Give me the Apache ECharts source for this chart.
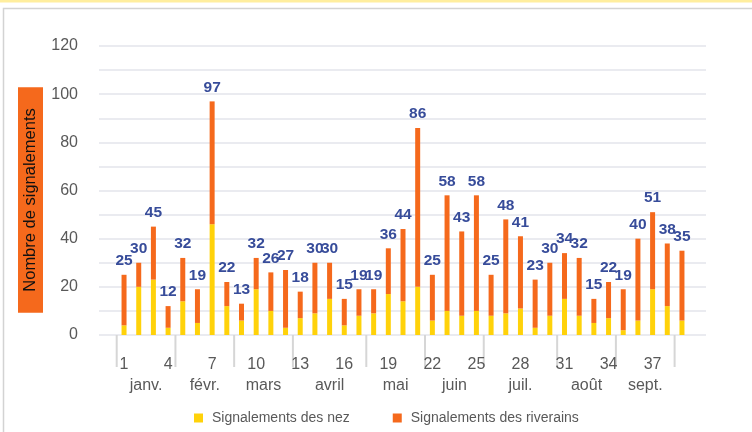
<!DOCTYPE html>
<html><head><meta charset="utf-8">
<script src="https://cdn.jsdelivr.net/npm/echarts@6/dist/echarts.min.js"></script>
<style>html,body{margin:0;padding:0;background:#fff}#c{width:752px;height:432px}</style>
</head><body><div id="c"></div>
<script>
var weeks = ['1','2','3','4','5','6','7','8','9','10','11','12','13','14','15','16','17','18','19','20','21','22','23','24','25','26','27','28','29','30','31','32','33','34','35','36','37','38','39'];
var nez = [4,20,23,3,14,5,46,12,6,19,10,3,7,9,15,4,8,9,17,14,20,6,10,8,10,8,9,11,3,8,15,8,5,7,2,6,19,12,6];
var riverains = [21,10,22,9,18,14,51,10,7,13,16,24,11,21,15,11,11,10,19,30,66,19,48,35,48,17,39,30,20,22,19,24,10,15,17,34,32,26,29];
var months = ['janv.','févr.','mars','avril','mai','juin','juil.','août','sept.'];
var monthFirstWeek = [1,5,9,13,18,22,26,31,35];
var monthLastWeek = [4,8,12,17,21,25,30,34,38];
var yTicks = [0,20,40,60,80,100,120];
var seriesNames = ['Signalements des nez','Signalements des riverains'];

var FONT = 'Liberation Sans, Arial, sans-serif';
var YELLOW = '#FFD20A', ORANGE = '#F5691C';
var chart = echarts.init(document.getElementById('c'));
chart.setOption({
  animation: false,
  textStyle: {fontFamily: FONT},
  grid: [
    {left: 99, right: 46, top: 46, bottom: 97},
    {left: 116.7, right: 62.7, top: 46, bottom: 97}
  ],
  legend: {
    left: 189, top: 406, itemWidth: 9, itemHeight: 9, itemGap: 43, icon: 'rect',
    textStyle: {fontSize: 14, color: '#595959', fontFamily: FONT, padding: [0,0,0,4]},
    data: seriesNames
  },
  xAxis: [
    {gridIndex: 0, type: 'value', show: false, min: 0, max: 1},
    {gridIndex: 1, type: 'category', data: weeks,
     axisLine: {show: false}, axisTick: {show: false},
     axisLabel: {interval: 2, margin: 22, fontSize: 16, color: '#595959', fontFamily: FONT}}
  ],
  yAxis: [
    {gridIndex: 0, type: 'value', min: 0, max: 120, interval: 10,
     axisLine: {show: false}, axisTick: {show: false},
     axisLabel: {margin: 21, fontSize: 16, color: '#595959', fontFamily: FONT,
       formatter: function (v) { return yTicks.indexOf(v) >= 0 ? String(v) : ''; }},
     splitLine: {lineStyle: {color: '#E3E5EB', width: 1.5}}},
    {gridIndex: 1, type: 'value', min: 0, max: 120, show: false}
  ],
  series: [
    {name: seriesNames[0], type: 'bar', stack: 's', xAxisIndex: 1, yAxisIndex: 1,
     barWidth: 5, itemStyle: {color: YELLOW}, data: nez},
    {name: seriesNames[1], type: 'bar', stack: 's', xAxisIndex: 1, yAxisIndex: 1,
     barWidth: 5, itemStyle: {color: ORANGE}, data: riverains,
     label: {show: true, position: 'top', distance: 6, fontSize: 15.5, fontWeight: 'bold',
       color: '#374C9A', fontFamily: FONT,
       formatter: function (p) { return String(nez[p.dataIndex] + riverains[p.dataIndex]); }}}
  ]
});

// month ticks and labels placed via the axis scale
var px = function (w) { return chart.convertToPixel({xAxisIndex: 1}, String(w)); };
var band = px(2) - px(1);
var y0 = chart.convertToPixel({yAxisIndex: 1}, 0);
var g = [];
g.push({type: 'rect', shape: {x: 0, y: 0, width: 752, height: 2.5}, style: {fill: '#FFEE9E'}, silent: true});
g.push({type: 'rect', shape: {x: 3.5, y: 8.5, width: 800, height: 500}, style: {fill: 'none', stroke: '#D3D3D3', lineWidth: 1.5}, silent: true});
var boundaries = monthFirstWeek.concat([monthLastWeek[monthLastWeek.length - 1] + 1]);
boundaries.forEach(function (w) {
  var x = px(w) - band / 2;
  g.push({type: 'line', shape: {x1: x, y1: y0, x2: x, y2: y0 + 32}, style: {stroke: '#D6D6D6', lineWidth: 2}, silent: true});
});
months.forEach(function (m, i) {
  var cx = (px(monthFirstWeek[i]) + px(monthLastWeek[i])) / 2;
  g.push({type: 'text', x: cx, y: y0 + 51, style: {text: m, fill: '#595959', font: '16px ' + FONT, textAlign: 'center', textVerticalAlign: 'middle'}, silent: true});
});
g.push({type: 'text', x: 30.5, y: 200, rotation: Math.PI / 2,
  style: {text: 'Nombre de signalements', fill: '#111', font: '16.5px ' + FONT, textAlign: 'center', textVerticalAlign: 'middle',
    backgroundColor: ORANGE, padding: [4, 21, 4, 21]}, silent: true});
chart.setOption({graphic: g});
</script></body></html>
